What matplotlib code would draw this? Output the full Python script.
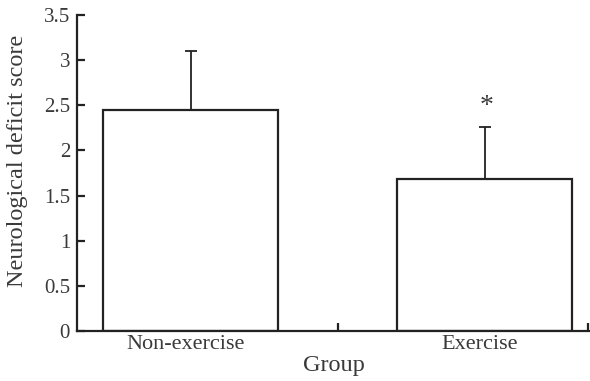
import matplotlib
matplotlib.use("Agg")
import matplotlib.pyplot as plt
import numpy as np

# data
groups = ["Non-exercise", "Exercise"]
means = [2.45, 1.68]
sds = [0.65, 0.58]
marks = ["", "*"]

# bar centres / boundaries in category units (boundaries are the axis ticks)
centres = [0.436, 1.563]
bounds = [1.0, 1.958]
width = 0.670

plt.rcParams["font.family"] = ["Liberation Serif", "DejaVu Serif"]
ink = "#222222"
txt = "#3a3a3a"

fig = plt.figure(figsize=(5.9, 3.81), dpi=100)
ax = fig.add_axes([0.1305, 0.1312, 0.8695, 0.8294])

ax.bar(centres, means, width=width, color="white", edgecolor=ink, linewidth=1.6, zorder=2)
ax.errorbar(centres, means, yerr=[np.zeros(len(sds)), sds], fmt="none",
            ecolor=ink, elinewidth=1.3, capsize=4.5, capthick=1.3, zorder=1)
for x, m, s, lab in zip(centres, means, sds, marks):
    if lab:
        ax.text(x + 0.006, m + s + 0.09, lab, ha="center", va="bottom", fontsize=20, color=txt)

ax.set_xlim(0, 1.966)
ax.set_ylim(0, 3.5)
ax.set_yticks(np.arange(0, 3.51, 0.5))
ax.set_yticklabels(["0", "0.5", "1", "1.5", "2", "2.5", "3", "3.5"])
ax.tick_params(axis="y", direction="in", length=6, width=1.6, color=ink,
               labelsize=15, labelcolor=txt, pad=5)

ax.set_xticks(bounds)
ax.set_xticklabels([])
ax.tick_params(axis="x", which="major", direction="in", length=6, width=1.6, color=ink)
ax.set_xticks([c - 0.02 for c in centres], minor=True)
ax.set_xticklabels(groups, minor=True)
ax.tick_params(axis="x", which="minor", length=0, labelsize=16, labelcolor=txt, pad=3)

ax.set_xlabel("Group", fontsize=17.5, color=txt, labelpad=0)
ax.xaxis.set_label_coords(0.50, -0.075)
ax.set_ylabel("Neurological deficit score", fontsize=17.5, color=txt)
ax.yaxis.set_label_coords(-0.095, 0.538)

for side in ["top", "right"]:
    ax.spines[side].set_visible(False)
for side in ["left", "bottom"]:
    ax.spines[side].set_linewidth(1.6)
    ax.spines[side].set_color(ink)

fig.savefig("out.png", dpi=100)
